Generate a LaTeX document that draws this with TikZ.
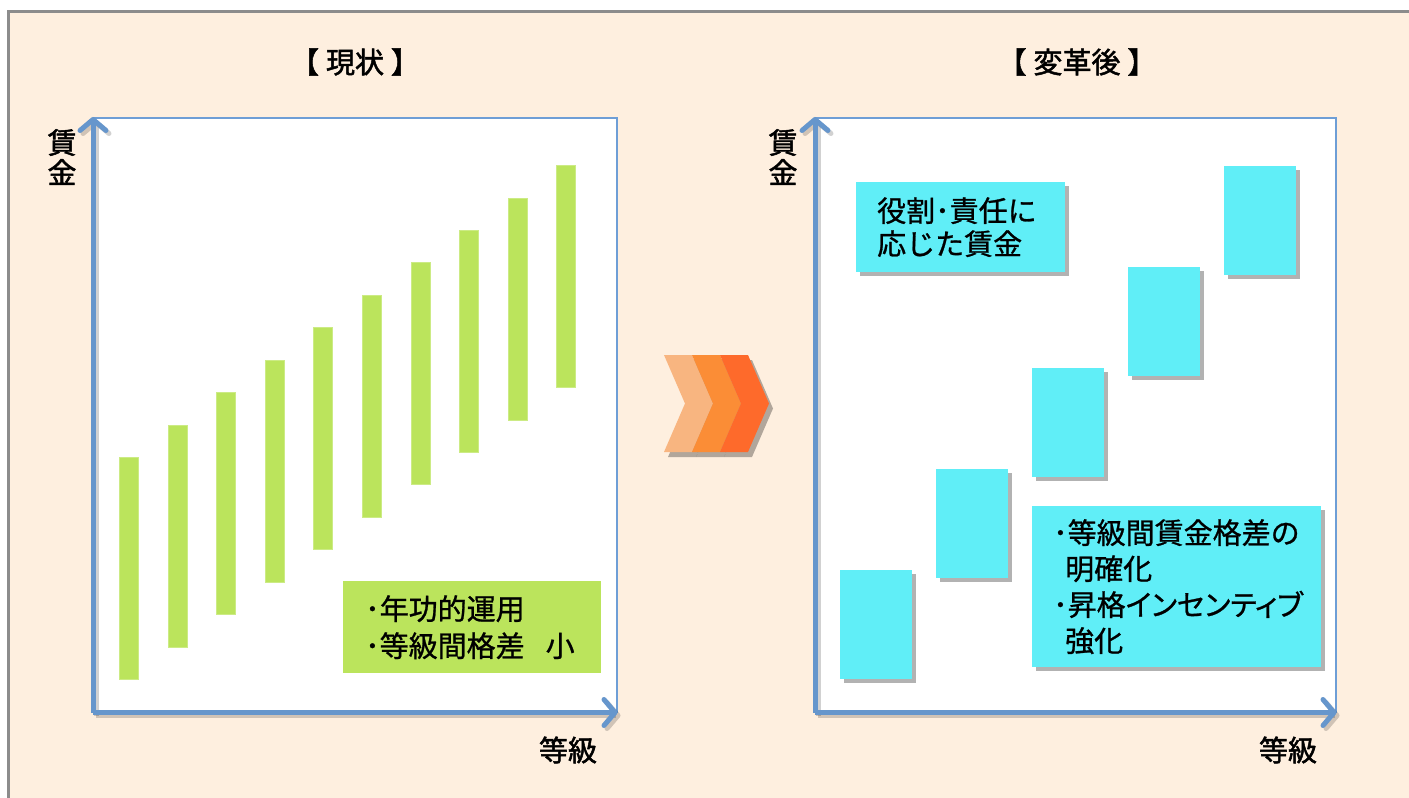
\documentclass[tikz,border=0pt]{standalone}
\usepackage{fontspec}
\setmainfont{Noto Sans CJK JP}[FakeBold=0.9]
\newfontfamily\heavyfont{Noto Sans CJK JP}[FakeBold=1.7]
\usetikzlibrary{arrows.meta,shadows}
\definecolor{peach}{HTML}{FEEFDF}
\definecolor{framegray}{HTML}{8C8C8C}
\definecolor{barg}{HTML}{BBE45C}
\definecolor{cyanb}{HTML}{60EEF7}
\definecolor{axisblue}{HTML}{6696CC}
\definecolor{outblue}{HTML}{6E9ED6}
\definecolor{chevA}{HTML}{F8B580}
\definecolor{chevB}{HTML}{FB8D36}
\definecolor{chevC}{HTML}{FE6A2B}
\tikzset{
  txt/.style={font=\heavyfont\fontsize{29pt}{30pt}\selectfont, inner sep=0pt, text=black},
  panel/.style={fill=white, draw=outblue, line width=1.5pt, anchor=north west, inner sep=0pt},
  axis/.style={draw=axisblue, line width=5pt, -{Straight Barb[length=11pt,width=26pt,round]}},
  axshadow/.style={draw=black, opacity=0.18, line width=5pt, -{Straight Barb[length=11pt,width=26pt,round]}},
  bar/.style={fill=barg, draw=barg!75!white, line width=0.6pt, minimum width=19pt, minimum height=222pt, anchor=north west, inner sep=0pt},
  cbox/.style={fill=cyanb, draw=none, minimum width=72pt, minimum height=109pt, anchor=north west, inner sep=0pt,
     drop shadow={shadow xshift=4pt, shadow yshift=-4pt, fill=black, opacity=0.3}},
  tbox/.style={anchor=north west, align=left, text=black, inner ysep=0pt, inner xsep=0pt},
  chev/.style={draw=none, drop shadow={shadow xshift=4pt, shadow yshift=-5pt, fill=black, opacity=0.3}},
}
\begin{document}
\begin{tikzpicture}[x=1pt,y=-1pt]
\useasboundingbox (0,0) rectangle (1409,798);
\fill[white] (0,0) rectangle (1409,798);
\draw[framegray, line width=3pt, fill=peach] (8.5,11.5) rectangle (1425,815);

% titles
\node[txt] (t1) at (355,62) {【\hspace{7pt}現状\hspace{7pt}】};
\node[txt] (t2) at (1077,62) {【\hspace{7pt}変革後\hspace{7pt}】};

% left panel
\node[panel, minimum width=523pt, minimum height=594pt] (p1) at (93,117) {};
\foreach \i/\top in {0/457,1/425,2/392,3/360,4/327,5/295,6/262,7/230,8/198,9/165}{
  \node[bar] (b\i) at ({119+48.6*\i},\top) {};
}
\node[tbox, fill=barg, minimum width=258pt, minimum height=92pt, text width=258pt,
  font=\fontsize{29pt}{37pt}\selectfont] (g1) at (343,581)
  {\hspace*{22pt}･年功的運用\\\hspace*{22pt}･等級間格差\hspace{21pt}小};
\draw[axshadow] ([shift={(3,3)}]p1.south west) -- ([shift={(3,3)}]p1.north west);
\draw[axshadow] ([shift={(3,3)}]p1.south west) -- ([shift={(3,3)}]p1.south east);
\draw[axis] (p1.south west) -- (p1.north west);
\draw[axis] (p1.south west) -- (p1.south east);
\node[txt, align=center] (y1) at (62,157) {賃\\金};
\node[txt] (x1) at (568,750) {等級};

% chevrons
\foreach \x/\c in {664/chevA,692/chevB,720/chevC}{
  \fill[\c, chev] (\x,355) -- (\x+28,355) -- (\x+49,403.5) -- (\x+28,452) -- (\x,452) -- (\x+21,403.5) -- cycle;
}

% right panel
\node[panel, minimum width=520pt, minimum height=594pt] (p2) at (815,117) {};
\node[cbox] (c1) at (840,570) {};
\node[cbox] (c2) at (936,469) {};
\node[cbox] (c3) at (1032,368) {};
\node[cbox] (c4) at (1128,267) {};
\node[cbox] (c5) at (1224,166) {};
\node[tbox, fill=cyanb, minimum width=209pt, minimum height=90pt, text width=209pt,
  font=\fontsize{29pt}{33pt}\selectfont,
  drop shadow={shadow xshift=4pt, shadow yshift=-4pt, fill=black, opacity=0.3}] (r1) at (856,182)
  {\hspace*{21pt}役割･責任に\\\hspace*{21pt}応じた賃金};
\node[tbox, fill=cyanb, minimum width=289pt, minimum height=161pt, text width=289pt,
  font=\fontsize{29pt}{36pt}\selectfont,
  drop shadow={shadow xshift=4pt, shadow yshift=-4pt, fill=black, opacity=0.3}] (r2) at (1032,506)
  {\hspace*{21pt}･等級間賃金格差の\\\hspace*{33pt}明確化\\\hspace*{21pt}･昇格{\addfontfeature{RawFeature=+palt}インセンティブ}\\\hspace*{33pt}強化};
\draw[axshadow] ([shift={(3,3)}]p2.south west) -- ([shift={(3,3)}]p2.north west);
\draw[axshadow] ([shift={(3,3)}]p2.south west) -- ([shift={(3,3)}]p2.south east);
\draw[axis] (p2.south west) -- (p2.north west);
\draw[axis] (p2.south west) -- (p2.south east);
\node[txt, align=center] (y2) at (783,157) {賃\\金};
\node[txt] (x2) at (1288,750) {等級};
\end{tikzpicture}
\end{document}
